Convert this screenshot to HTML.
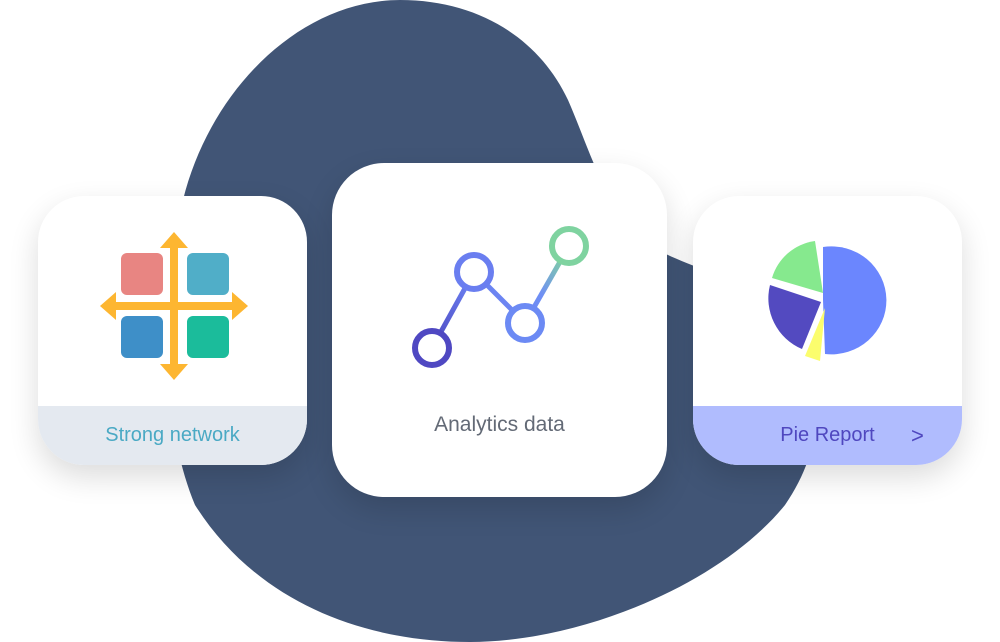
<!DOCTYPE html>
<html><head><meta charset="utf-8"><style>
body{margin:0;width:1000px;height:642px;background:#fff;position:relative;overflow:hidden;font-family:"Liberation Sans",sans-serif}
svg.bg{position:absolute;left:0;top:0}
.card{position:absolute;background:#fff;overflow:hidden;box-shadow:0 12px 30px rgba(0,0,0,.14)}
.foot{position:absolute;left:0;right:0;bottom:0;height:59px;display:flex;align-items:center;justify-content:center;font-size:20px}
</style></head><body>
<svg class="bg" width="1000" height="642">
<path d="M400,0 C480,0 540,40 568,100 C590,150 605,210 650,245 C680,265 720,270 760,300 C830,360 830,440 785,505 C720,585 580,642 470,642 C360,642 255,600 195,505 C160,420 160,300 183,200 C210,90 300,0 400,0 Z" fill="#415576"/>
</svg>
<div class="card" style="left:38px;top:196px;width:269px;height:269px;border-radius:46px">
 <svg width="269" height="210" style="position:absolute;left:0;top:0">
  <rect x="83" y="57" width="42" height="42" rx="6" fill="#e88582"/>
  <rect x="149" y="57" width="42" height="42" rx="6" fill="#50aec8"/>
  <rect x="83" y="120" width="42" height="42" rx="6" fill="#3e8fc8"/>
  <rect x="149" y="120" width="42" height="42" rx="6" fill="#1bbc9b"/>
  <g fill="#fdb631">
   <rect x="132" y="50" width="8" height="120"/>
   <rect x="76" y="106" width="124" height="8"/>
   <polygon points="136,36 122,52 150,52"/>
   <polygon points="136,184 122,168 150,168"/>
   <polygon points="62,110 78,96 78,124"/>
   <polygon points="210,110 194,96 194,124"/>
  </g>
 </svg>
 <div class="foot" style="background:#e4e9f0;color:#4aa9c4">Strong network</div>
</div>
<div class="card" style="left:332px;top:163px;width:335px;height:334px;border-radius:52px">
 <svg width="335" height="334" style="position:absolute;left:0;top:0">
  <defs><linearGradient id="g" gradientUnits="userSpaceOnUse" x1="100" y1="185" x2="237" y2="83"><stop offset="0" stop-color="#4d47bf"/><stop offset=".4" stop-color="#6a7ff0"/><stop offset=".7" stop-color="#6f8ff5"/><stop offset="1" stop-color="#86e58a"/></linearGradient></defs>
  <g stroke="url(#g)" stroke-width="6" fill="#fff">
   <line x1="100" y1="185" x2="142" y2="109" stroke-width="5"/>
   <line x1="142" y1="109" x2="193" y2="160" stroke-width="5"/>
   <line x1="193" y1="160" x2="237" y2="83" stroke-width="5"/>
   <circle cx="100" cy="185" r="17" stroke="#4f48c2"/>
   <circle cx="142" cy="109" r="17" stroke="#6a7ef0"/>
   <circle cx="193" cy="160" r="17" stroke="#6c8af4"/>
   <circle cx="237" cy="83" r="17" stroke="#7fd3a0"/>
  </g>
 </svg>
 <div style="position:absolute;left:0;right:0;top:250px;text-align:center;font-size:21px;color:#636a76">Analytics data</div>
</div>
<div class="card" style="left:693px;top:196px;width:269px;height:269px;border-radius:46px">
 <svg width="269" height="210" style="position:absolute;left:0;top:0">
  <path d="M130,51 A55,54 0 1 1 132,158 L130,104 Z" fill="#6b86fe"/>
  <path d="M130,97 L79,82 A52,52 0 0 1 122,45 Z" fill="#86e98e"/>
  <path d="M128,106 L77,89 A55,55 0 0 0 109,153 Z" fill="#534ac0"/>
  <path d="M132,112 L112,160 L127,165 Z" fill="#fbfd6d"/>
 </svg>
 <div class="foot" style="background:#b0bcfe;color:#4f47bf">Pie Report<span style="position:absolute;left:218px;font-size:22px">&gt;</span></div>
</div>
</body></html>
